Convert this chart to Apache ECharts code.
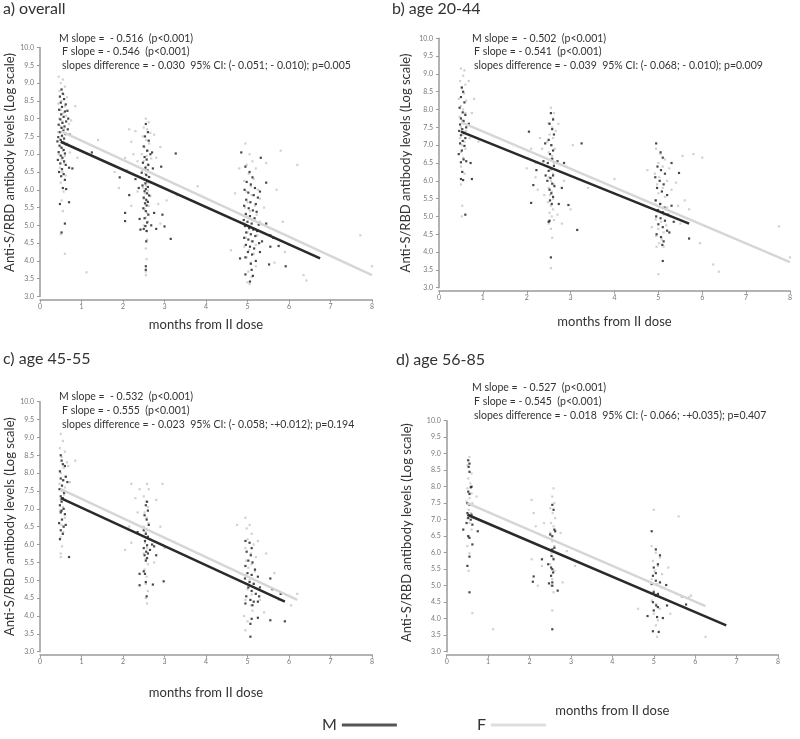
<!DOCTYPE html>
<html>
<head>
<meta charset="utf-8">
<script src="https://cdn.jsdelivr.net/npm/echarts@6/dist/echarts.min.js"></script>
<style>html,body{margin:0;padding:0;background:#fff}#c{width:800px;height:739px}</style>
</head>
<body>
<div id="c"></div>
<script>
// ---------- panel titles & annotations ----------
const panelTitles = ['a) overall', 'b) age 20-44', 'c) age 45-55', 'd) age 56-85'];
const annoM = ['M slope =  - 0.516  (p<0.001)', 'M slope =  - 0.502  (p<0.001)', 'M slope =  - 0.532  (p<0.001)', 'M slope =  - 0.527  (p<0.001)'];
const annoF = ['F slope = - 0.546  (p<0.001)', 'F slope = - 0.541  (p<0.001)', 'F slope = - 0.555  (p<0.001)', 'F slope = - 0.545  (p<0.001)'];
const annoD = [
  'slopes difference = - 0.030  95% CI: (- 0.051; - 0.010); p=0.005',
  'slopes difference = - 0.039  95% CI: (- 0.068; - 0.010); p=0.009',
  'slopes difference = - 0.023  95% CI: (- 0.058; -+0.012); p=0.194',
  'slopes difference = - 0.018  95% CI: (- 0.066; -+0.035); p=0.407'
];
const xAxisName = 'months from II dose';
const yAxisName = 'Anti-S/RBD antibody levels (Log scale)';
const seriesNames = ['M', 'F'];

// ---------- regression lines [x, log level] ----------
const lineAM = [[0.5, 7.35], [6.75, 4.07]];
const lineAF = [[0.5, 7.65], [8.0, 3.6]];
const lineBM = [[0.5, 7.38], [5.7, 4.8]];
const lineBF = [[0.5, 7.65], [8.0, 3.72]];
const lineCM = [[0.5, 7.3], [5.9, 4.4]];
const lineCF = [[0.5, 7.55], [6.2, 4.45]];
const lineDM = [[0.5, 7.15], [6.75, 3.8]];
const lineDF = [[0.5, 7.5], [6.25, 4.38]];

// ---------- individual observations [months, log level] ----------
const aM = [
[0.52,8.82],[0.55,8.7],[0.48,8.62],[0.58,8.55],[0.5,8.45],[0.62,8.4],[0.53,8.33],[0.46,8.25],[0.6,8.2],[0.66,8.22],[0.51,8.12],[0.57,8.05],[0.49,7.98],[0.63,7.92],[0.54,7.88],[0.45,7.83],[0.59,7.78],[0.52,7.74],[0.67,7.7],[0.56,7.66],[0.48,7.62],[0.61,7.58],[0.53,7.52],[0.44,7.48],[0.58,7.44],[0.5,7.4],[0.42,7.36],[0.55,7.32],[0.63,7.28],[0.47,7.24],[0.52,7.18],[0.57,7.12],[0.45,7.06],[0.6,7.02],[0.5,6.96],[0.54,6.9],[0.43,6.84],[0.58,6.8],[0.49,6.74],[0.62,6.7],[0.7,6.62],[0.53,6.58],[0.46,6.5],[0.57,6.44],[0.51,6.38],[0.78,6.6],[0.6,6.28],[0.55,6.05],[0.48,5.6],[0.7,5.65],[0.6,5.05],[0.52,4.8],[0.63,6.02],[1.25,7.05],[0.72,7.55],[0.68,8.0],
[2.55,7.85],[2.6,7.62],[2.53,7.5],[2.62,7.38],[2.5,7.22],[2.58,7.1],[2.66,7.0],[2.52,6.92],[2.57,6.85],[2.48,6.76],[2.61,6.7],[2.54,6.62],[2.59,6.55],[2.45,6.48],[2.56,6.42],[2.63,6.36],[2.51,6.3],[2.58,6.24],[2.54,6.18],[2.47,6.12],[2.6,6.08],[2.55,6.02],[2.52,5.96],[2.58,5.9],[2.63,5.84],[2.5,5.78],[2.56,5.72],[2.6,5.66],[2.53,5.62],[2.57,5.56],[2.49,5.48],[2.55,5.4],[2.61,5.3],[2.52,5.2],[2.58,5.08],[2.54,4.98],[2.5,4.9],[2.57,4.84],[2.56,4.55],[2.55,3.85],[2.55,3.75],[2.72,6.6],
[2.05,5.35],[2.05,5.12],[2.15,5.85],[1.92,6.35],[2.3,6.3],[2.4,5.18],[2.42,4.88],[2.8,4.9],[2.75,5.35],[2.95,5.3],[3.0,4.97],[3.15,4.62],[2.92,6.65],[3.27,7.02],[2.7,7.05],[2.38,6.05],[2.68,5.0],
[4.95,6.65],[5.05,6.5],[5.12,6.35],[4.98,6.22],[5.08,6.15],[5.18,6.05],[4.93,6.0],[5.02,5.92],[5.15,5.85],[5.25,5.78],[4.97,5.72],[5.07,5.65],[5.2,5.6],[4.92,5.55],[5.03,5.48],[5.13,5.42],[5.22,5.38],[4.96,5.32],[5.06,5.26],[5.17,5.2],[4.91,5.15],[5.0,5.1],[5.1,5.05],[5.27,5.02],[4.94,4.98],[5.04,4.92],[5.14,4.88],[5.23,4.84],[4.97,4.8],[5.08,4.75],[5.19,4.7],[4.92,4.65],[5.02,4.6],[5.12,4.55],[5.28,4.5],[4.96,4.45],[5.06,4.4],[5.16,4.35],[5.01,4.25],[5.11,4.18],[4.95,4.1],[5.2,4.0],[5.08,3.92],[5.1,3.75],[4.95,3.62],[5.13,3.58],[5.06,3.42],[4.95,2.97],[5.3,5.95],
[5.45,6.2],[5.45,5.05],[5.55,4.72],[5.62,4.65],[5.55,4.4],[5.75,4.42],[5.52,3.9],[5.92,3.85],[4.82,4.07],[5.32,6.9],[4.85,7.05],[5.35,4.55],[5.3,4.25]
];
const aF = [
[0.45,9.18],[0.55,9.1],[0.5,9.0],[0.6,8.9],[0.47,8.78],[0.57,8.68],[0.65,8.6],[0.52,8.5],[0.44,8.42],[0.6,8.35],[0.85,8.35],[0.5,8.25],[0.56,8.15],[0.63,8.08],[0.46,8.0],[0.54,7.92],[0.7,7.85],[0.5,7.78],[0.58,7.7],[0.44,7.62],[0.62,7.55],[0.53,7.5],[0.48,7.42],[0.57,7.35],[0.66,7.3],[0.5,7.2],[0.55,7.1],[0.45,7.0],[0.6,6.95],[0.52,6.85],[0.58,6.75],[0.48,6.62],[0.54,6.5],[0.62,6.4],[0.5,6.2],[0.57,5.95],[0.52,5.7],[0.55,5.4],[0.5,4.75],[0.6,4.2],[0.75,7.95],[0.72,7.05],[1.12,3.68],[1.4,7.4],[0.9,6.9],
[2.55,8.0],[2.62,7.9],[2.5,7.75],[2.58,7.7],[2.66,7.6],[2.48,7.5],[2.56,7.4],[2.63,7.3],[2.52,7.2],[2.6,7.1],[2.45,7.0],[2.57,6.95],[2.68,6.88],[2.5,6.8],[2.6,6.72],[2.55,6.65],[2.47,6.55],[2.64,6.5],[2.53,6.45],[2.58,6.38],[2.5,6.3],[2.62,6.2],[2.55,6.12],[2.48,6.05],[2.6,5.98],[2.53,5.9],[2.66,5.82],[2.5,5.75],[2.57,5.68],[2.62,5.55],[2.52,5.45],[2.58,5.35],[2.55,5.22],[2.6,5.1],[2.5,5.0],[2.56,4.85],[2.58,4.6],[2.55,4.35],[2.57,4.05],[2.55,3.6],[2.55,3.7],
[2.2,7.35],[2.25,7.0],[2.05,6.9],[2.3,7.65],[1.9,6.05],[2.1,6.55],[2.35,6.8],[2.8,6.9],[2.9,7.2],[2.75,7.55],[3.0,6.3],[3.05,5.7],[2.85,5.6],[2.2,5.55],[2.35,5.95],[2.9,5.05],[3.8,6.1],[3.3,5.85],[2.15,7.7],[1.8,6.5],
[4.95,7.3],[5.05,7.0],[5.12,6.8],[4.98,6.7],[5.2,6.6],[5.03,6.45],[5.15,6.3],[4.92,6.25],[5.08,6.1],[5.25,6.0],[4.97,5.95],[5.1,5.85],[5.3,5.75],[5.0,5.65],[5.18,5.55],[4.94,5.5],[5.06,5.4],[5.22,5.3],[4.98,5.25],[5.12,5.15],[5.3,5.1],[4.93,5.05],[5.05,4.95],[5.17,4.9],[5.0,4.8],[5.24,4.72],[4.96,4.65],[5.1,4.55],[5.2,4.45],[4.92,4.4],[5.04,4.3],[5.15,4.2],[4.98,4.1],[5.08,3.95],[5.2,3.85],[5.02,3.7],[5.1,3.55],[5.0,3.4],[5.05,3.35],[5.4,5.5],[5.5,4.95],[5.45,6.75],
[5.8,7.1],[6.2,6.7],[6.35,3.6],[6.42,3.45],[7.72,4.72],[8.0,3.85],[5.9,4.25],[4.6,4.3],[4.7,5.9],[5.65,3.95],[6.0,4.45],[5.85,5.1],[5.7,6.0],[4.8,6.6]
];
const bM = [
[0.52,8.62],[0.55,8.5],[0.5,8.35],[0.58,8.2],[0.47,8.05],[0.54,7.92],[0.6,7.85],[0.5,7.75],[0.56,7.68],[0.48,7.58],[0.62,7.5],[0.53,7.45],[0.46,7.4],[0.57,7.35],[0.5,7.28],[0.6,7.2],[0.54,7.12],[0.48,7.05],[0.58,6.98],[0.52,6.85],[0.45,6.75],[0.56,6.6],[0.5,6.52],[0.62,6.55],[0.53,6.25],[0.5,6.05],[0.55,6.02],[0.6,5.05],[0.72,6.5],[0.68,7.6],[0.75,6.05],
[2.55,7.9],[2.6,7.72],[2.52,7.6],[2.58,7.45],[2.62,7.3],[2.5,7.15],[2.56,7.0],[2.6,6.85],[2.53,6.75],[2.58,6.62],[2.48,6.5],[2.62,6.42],[2.55,6.35],[2.5,6.28],[2.6,6.15],[2.54,6.08],[2.47,6.0],[2.58,5.92],[2.63,5.85],[2.52,5.75],[2.56,5.65],[2.6,5.55],[2.53,5.45],[2.57,5.35],[2.52,4.88],[2.5,4.85],[2.55,3.85],[2.43,6.15],[2.22,6.3],[2.38,6.55],[2.7,6.55],[2.73,5.35],
[2.1,5.38],[2.15,5.88],[2.05,7.38],[2.8,5.8],[2.95,5.32],[3.15,4.62],[3.25,7.05],[2.85,6.5],[2.42,7.05],
[4.95,7.05],[5.05,6.8],[5.1,6.65],[4.98,6.4],[5.06,6.3],[5.15,6.2],[4.93,6.1],[5.03,6.0],[5.12,5.9],[4.97,5.8],[5.08,5.7],[5.2,5.6],[4.94,5.45],[5.04,5.35],[5.14,5.25],[4.99,5.18],[5.1,5.12],[5.22,5.05],[4.95,5.0],[5.05,4.95],[5.15,4.88],[5.0,4.78],[5.1,4.7],[5.2,4.6],[4.96,4.5],[5.06,4.42],[5.12,4.3],[5.09,4.2],[5.1,3.75],[4.95,2.98],[5.3,5.3],[5.25,4.55],[5.3,6.5],
[5.47,6.22],[5.7,4.38],[5.35,4.85]
];
const bF = [
[0.5,9.15],[0.58,9.1],[0.55,8.95],[0.48,8.8],[0.6,8.7],[0.52,8.6],[0.57,8.45],[0.45,8.3],[0.62,8.25],[0.5,8.1],[0.55,8.0],[0.6,7.9],[0.47,7.8],[0.53,7.7],[0.58,7.6],[0.5,7.5],[0.62,7.4],[0.55,7.3],[0.48,7.2],[0.58,7.1],[0.52,7.0],[0.6,6.9],[0.5,6.8],[0.55,6.65],[0.5,6.4],[0.58,6.2],[0.5,5.9],[0.53,5.3],[0.52,5.0],[0.8,8.3],[0.75,7.9],[0.7,7.2],[0.68,8.8],[0.9,7.1],
[2.55,8.05],[2.62,7.9],[2.6,7.75],[2.5,7.62],[2.58,7.5],[2.66,7.4],[2.52,7.3],[2.6,7.2],[2.47,7.1],[2.56,7.0],[2.64,6.9],[2.5,6.8],[2.58,6.7],[2.53,6.6],[2.62,6.5],[2.48,6.4],[2.56,6.3],[2.6,6.2],[2.5,6.1],[2.55,6.0],[2.62,5.9],[2.5,5.8],[2.57,5.7],[2.53,5.6],[2.6,5.5],[2.48,5.4],[2.55,5.3],[2.6,5.2],[2.52,5.1],[2.57,5.0],[2.62,4.9],[2.5,4.8],[2.55,4.65],[2.58,4.4],[2.55,3.55],[2.7,5.05],[2.8,4.8],[2.72,7.6],
[2.2,6.5],[2.35,6.9],[2.3,7.2],[2.1,6.9],[2.2,6.1],[2.4,5.6],[2.9,6.4],[3.0,5.2],[3.05,7.0],[2.85,6.0],[3.4,5.8],[2.0,6.35],[4.0,6.05],[2.25,5.75],
[4.95,6.9],[5.05,6.75],[5.15,6.6],[5.0,6.5],[5.1,6.4],[5.25,6.35],[4.92,6.2],[5.02,6.1],[5.2,6.0],[4.97,5.9],[5.1,5.8],[5.3,5.75],[5.0,5.65],[5.15,5.55],[4.93,5.45],[5.05,5.35],[5.2,5.25],[4.98,5.15],[5.12,5.05],[5.28,5.0],[4.94,4.92],[5.06,4.85],[5.18,4.75],[5.0,4.65],[5.12,4.55],[4.95,4.45],[5.08,4.35],[5.02,4.25],[5.12,4.15],[4.96,4.15],[5.0,3.38],[5.4,5.95],[5.45,5.3],[5.5,4.8],[4.85,4.7],
[5.95,4.25],[6.25,3.65],[6.38,3.45],[7.75,4.72],[8.0,3.85],[5.55,6.7],[5.6,5.45],[5.7,5.2],[4.75,6.3],[5.8,6.75],[6.0,6.65]
];
const cM = [
[0.5,8.5],[0.52,8.35],[0.55,8.25],[0.6,8.2],[0.48,8.05],[0.62,7.9],[0.5,7.85],[0.56,7.8],[0.66,7.75],[0.53,7.65],[0.47,7.55],[0.58,7.45],[0.5,7.35],[0.55,7.3],[0.52,7.2],[0.48,7.1],[0.57,7.0],[0.5,6.9],[0.6,6.85],[0.53,6.7],[0.46,6.6],[0.57,6.5],[0.5,6.4],[0.55,6.3],[0.48,6.15],[0.7,5.65],[0.52,6.95],[0.62,6.55],
[2.58,7.2],[2.55,7.1],[2.6,6.95],[2.52,6.82],[2.57,6.7],[2.62,6.55],[2.5,6.4],[2.55,6.3],[2.6,6.22],[2.53,6.1],[2.58,5.98],[2.5,5.9],[2.56,5.8],[2.6,5.75],[2.52,5.7],[2.58,5.62],[2.55,5.55],[2.5,5.25],[2.53,5.18],[2.55,4.95],[2.57,4.55],[2.4,5.18],[2.4,4.86],[2.35,6.35],[2.7,6.0],[2.75,5.95],[2.8,5.7],[2.72,4.88],[2.98,4.97],[2.65,5.85],
[4.95,6.1],[5.05,6.05],[5.1,5.9],[4.98,5.8],[5.08,5.7],[5.02,5.55],[5.12,5.5],[4.95,5.4],[5.18,5.3],[5.0,5.2],[5.1,5.15],[4.94,5.05],[5.05,4.95],[5.15,4.9],[5.02,4.8],[5.1,4.7],[5.2,4.62],[4.97,4.55],[5.07,4.45],[5.15,4.4],[4.95,4.35],[5.12,4.3],[5.25,4.4],[5.28,4.55],[5.25,3.95],[5.1,3.92],[5.07,3.78],[5.07,3.42],[5.25,5.1],[5.3,4.8],
[5.55,5.05],[5.6,4.75],[5.55,3.88],[5.9,3.85],[5.8,4.62]
];
const cF = [
[0.5,9.1],[0.55,8.9],[0.48,8.7],[0.6,8.6],[0.52,8.45],[0.65,8.3],[0.57,8.15],[0.5,8.0],[0.62,7.9],[0.55,7.8],[0.47,7.7],[0.6,7.6],[0.53,7.5],[0.58,7.4],[0.5,7.25],[0.55,7.05],[0.48,6.95],[0.6,6.75],[0.52,6.55],[0.56,6.35],[0.5,6.2],[0.53,5.95],[0.5,5.75],[0.5,5.65],[0.85,8.35],[0.72,7.75],[0.68,8.2],
[2.58,7.7],[2.62,7.55],[2.5,7.35],[2.55,7.2],[2.6,7.05],[2.52,6.9],[2.57,6.75],[2.62,6.6],[2.5,6.5],[2.55,6.35],[2.6,6.2],[2.53,6.05],[2.58,5.9],[2.5,5.75],[2.55,5.6],[2.6,5.45],[2.52,5.3],[2.57,5.1],[2.55,4.9],[2.6,4.7],[2.55,4.5],[2.58,4.35],[2.2,7.7],[2.3,7.3],[2.35,6.9],[2.15,6.5],[2.05,5.85],[2.2,6.05],[2.8,7.25],[2.9,6.5],[2.75,5.5],[3.0,5.9],[2.4,7.55],[2.95,7.7],
[4.95,6.75],[5.05,6.55],[4.98,6.45],[5.1,6.3],[5.0,6.15],[5.15,6.0],[4.95,5.9],[5.08,5.75],[5.2,5.65],[4.97,5.55],[5.1,5.45],[5.02,5.35],[5.18,5.25],[4.95,5.15],[5.05,5.0],[5.15,4.9],[5.0,4.75],[5.1,4.6],[4.95,4.45],[5.08,4.3],[5.12,4.15],[4.92,4.0],[5.0,3.85],[4.95,3.6],[5.3,4.45],[5.4,4.1],[5.45,5.75],[5.25,6.1],
[6.05,4.3],[6.2,4.62],[5.75,4.45],[4.75,6.55],[5.65,5.2]
];
const dM = [
[0.52,8.8],[0.55,8.7],[0.53,8.6],[0.55,8.45],[0.6,8.0],[0.58,7.98],[0.52,7.85],[0.55,7.78],[0.5,7.5],[0.55,7.45],[0.5,7.2],[0.6,7.15],[0.52,7.05],[0.58,7.0],[0.48,6.9],[0.62,6.85],[0.75,6.65],[0.4,6.7],[0.52,6.5],[0.55,6.45],[0.62,6.25],[0.5,5.6],[0.55,5.88],[0.55,4.8],
[2.55,7.45],[2.58,7.3],[2.6,6.7],[2.62,6.65],[2.5,6.55],[2.55,6.5],[2.6,6.15],[2.55,6.1],[2.53,5.9],[2.58,5.8],[2.52,5.55],[2.55,5.5],[2.57,5.4],[2.52,5.3],[2.55,5.1],[2.55,5.0],[2.68,4.85],[2.47,5.07],[2.1,5.28],[2.08,5.12],[2.3,5.8],[2.45,5.65],[2.55,3.68],
[4.95,6.65],[5.05,6.1],[5.15,5.92],[5.0,5.55],[5.1,5.65],[4.98,5.3],[5.05,5.15],[4.95,5.05],[5.15,5.1],[5.0,4.8],[5.1,4.75],[5.05,4.7],[4.98,4.5],[5.06,4.4],[5.1,4.35],[5.0,4.25],[5.08,4.05],[5.22,4.02],[4.85,4.08],[4.98,3.62],[5.12,3.6],[5.3,5.02],[5.05,5.38],
[5.68,4.68],[5.78,4.43],[5.32,4.4]
];
const dF = [
[0.55,8.9],[0.5,8.65],[0.6,8.4],[0.52,8.25],[0.57,8.1],[0.5,7.95],[0.6,7.8],[0.55,7.65],[0.48,7.55],[0.62,7.5],[0.53,7.3],[0.58,7.2],[0.5,7.05],[0.55,6.9],[0.6,6.7],[0.52,6.5],[0.5,6.2],[0.55,5.98],[0.53,5.45],[0.62,4.17],[0.72,7.7],[1.12,3.68],
[2.58,7.95],[2.55,7.7],[2.6,7.5],[2.5,7.35],[2.56,7.2],[2.62,7.05],[2.52,6.9],[2.58,6.8],[2.5,6.6],[2.55,6.35],[2.6,6.2],[2.53,6.0],[2.57,5.85],[2.5,5.65],[2.6,5.45],[2.55,5.2],[2.52,5.0],[2.58,4.8],[2.55,4.25],[2.05,7.6],[2.1,7.2],[2.15,6.8],[2.05,5.8],[2.35,6.9],[2.3,5.6],[2.75,6.6],[2.8,5.1],[2.9,6.05],[3.1,5.6],[2.2,5.0],
[5.0,7.3],[4.95,6.2],[5.05,6.0],[5.15,5.85],[4.98,5.75],[5.1,5.6],[5.02,5.45],[5.2,5.35],[4.95,5.2],[5.08,5.05],[5.18,4.95],[5.0,4.85],[5.1,4.7],[4.95,4.55],[5.05,4.45],[5.15,4.3],[5.0,4.15],[5.1,3.95],[5.05,3.8],[5.08,3.45],[5.35,5.55],[5.4,4.15],[4.62,4.3],[5.55,4.75],[5.85,4.65],[5.6,7.1],[6.25,3.45],[5.9,4.7]
];

// ---------- layout ----------
const FONT = 'Lato, "Liberation Sans", sans-serif';
const TXT = '#333333';
const AXC = '#9a9a9a';
const grids = [
  {left: 40, top: 47.5, width: 332, height: 249},
  {left: 439, top: 38.3, width: 351, height: 249.4},
  {left: 40, top: 401.7, width: 332, height: 250},
  {left: 446.7, top: 420.7, width: 331.3, height: 231}
];
const xNameGap = [19, 25, 32, 50];
const yNameGap = [19.5, 24.5, 19.5, 31];
const yNamePad = [[0,0,0,19],[0,0,0,0],[0,0,0,0],[0,0,0,7]];

const titlePos = [[3,10],[392,10],[3,360],[396,361]];
const annoPos = [
  [[59,39.3],[62,52.7],[62,66.7]],
  [[472,39.3],[474,52.7],[474,66.7]],
  [[59,397.3],[62,411.7],[62,425.7]],
  [[472,389],[474,402.7],[474,416.7]]
];

const scatterData = [[aM, aF], [bM, bF], [cM, cF], [dM, dF]];
const lineData = [[lineAM, lineAF], [lineBM, lineBF], [lineCM, lineCF], [lineDM, lineDF]];

const colM = '#1c1c1c', colF = '#c6c6c6';
const colLineM = '#2a2a2a', colLineF = '#d6d6d6';

const xAxes = [], yAxes = [], series = [], graphics = [];
grids.forEach((g, i) => {
  xAxes.push({
    type: 'value', gridIndex: i, min: 0, max: 8, interval: 1, offset: 3,
    name: xAxisName, nameLocation: 'middle', nameGap: xNameGap[i],
    nameTextStyle: {fontFamily: FONT, fontSize: 13, color: TXT},
    axisLine: {lineStyle: {color: AXC, width: 1.5}},
    axisTick: {show: true, length: 3, lineStyle: {color: AXC, width: 1}},
    axisLabel: {fontFamily: FONT, fontSize: 7, color: '#777', margin: 4},
    splitLine: {show: false}
  });
  yAxes.push({
    type: 'value', gridIndex: i, min: 3, max: 10, interval: 0.5, offset: 2,
    name: yAxisName, nameLocation: 'middle', nameGap: yNameGap[i],
    nameTextStyle: {fontFamily: FONT, fontSize: 13, color: TXT, padding: yNamePad[i]},
    axisLine: {show: true, lineStyle: {color: AXC, width: 1.5}},
    axisTick: {show: true, length: 3, lineStyle: {color: AXC, width: 1}},
    axisLabel: {fontFamily: FONT, fontSize: 7, color: '#777', margin: 4, formatter: v => v.toFixed(1)},
    splitLine: {show: false}
  });
  series.push({
    name: seriesNames[1], type: 'scatter', xAxisIndex: i, yAxisIndex: i,
    symbol: 'rect', symbolSize: 2.2, itemStyle: {color: colF}, data: scatterData[i][1], silent: true
  });
  series.push({
    name: seriesNames[0], type: 'scatter', xAxisIndex: i, yAxisIndex: i,
    symbol: 'rect', symbolSize: 2.2, itemStyle: {color: colM}, data: scatterData[i][0], silent: true
  });
  series.push({
    name: seriesNames[1], type: 'line', xAxisIndex: i, yAxisIndex: i, showSymbol: false,
    lineStyle: {color: colLineF, width: 2.5}, itemStyle: {color: colLineF}, data: lineData[i][1], silent: true
  });
  series.push({
    name: seriesNames[0], type: 'line', xAxisIndex: i, yAxisIndex: i, showSymbol: false,
    lineStyle: {color: colLineM, width: 2.5}, itemStyle: {color: colLineM}, data: lineData[i][0], silent: true
  });
  graphics.push({
    type: 'text', left: titlePos[i][0], top: titlePos[i][1] - 9,
    style: {text: panelTitles[i], font: '16px ' + FONT, fill: TXT}
  });
  const texts = [annoM[i], annoF[i], annoD[i]];
  texts.forEach((t, k) => {
    graphics.push({
      type: 'text', left: annoPos[i][k][0], top: annoPos[i][k][1] - 6.5,
      style: {text: t, font: '10.5px ' + FONT, fill: TXT}
    });
  });
});

const chart = echarts.init(document.getElementById('c'), null, {renderer: 'canvas'});
chart.setOption({
  animation: false,
  backgroundColor: '#ffffff',
  grid: grids,
  xAxis: xAxes,
  yAxis: yAxes,
  series: series,
  graphic: graphics,
  legend: [
    {left: 322, top: 717, padding: 0, align: 'right', itemWidth: 55, itemHeight: 3, selectedMode: false,
     textStyle: {fontFamily: FONT, fontSize: 16, color: TXT},
     data: [{name: 'M', icon: 'rect', itemStyle: {color: colLineM}}]},
    {left: 477, top: 717, padding: 0, align: 'right', itemWidth: 55, itemHeight: 3, selectedMode: false,
     textStyle: {fontFamily: FONT, fontSize: 16, color: TXT},
     data: [{name: 'F', icon: 'rect', itemStyle: {color: colLineF}}]}
  ]
});
</script>
</body>
</html>
